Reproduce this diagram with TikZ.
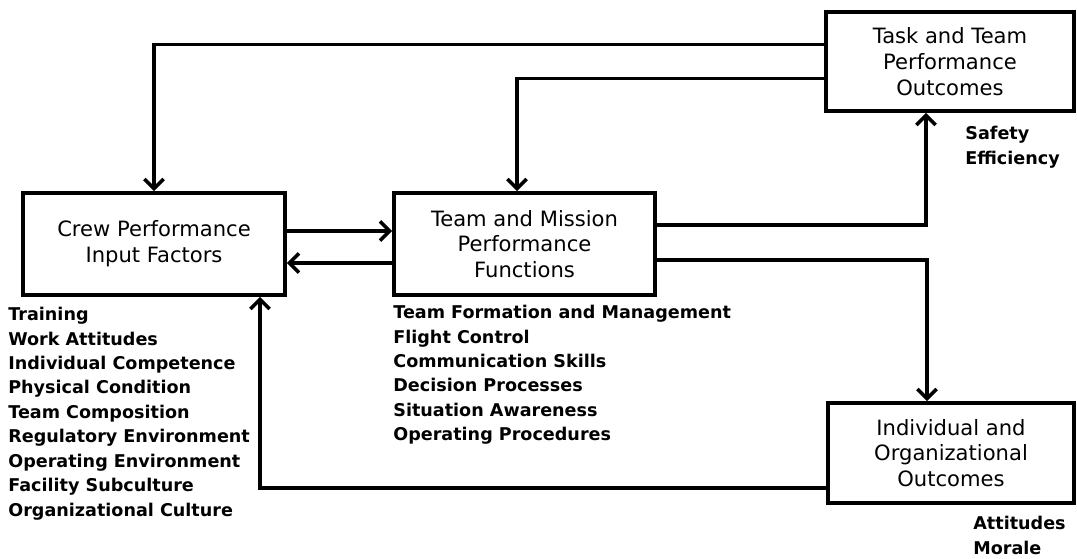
\documentclass[tikz,border=0pt]{standalone}
\usepackage{fontspec}
\setmainfont{DejaVu Sans}
\usetikzlibrary{arrows.meta}

\begin{document}
\begin{tikzpicture}
        \tikzstyle{block} = [draw, line width=2.1pt, inner sep=0pt, align=center, font=\fontsize{12}{14.6}\selectfont]
        \tikzstyle{edge} = [line width=2pt, -{Straight Barb[length=5.5pt, width=11pt]}]
        \tikzstyle{items} = [anchor=north west, inner sep=0pt, align=left, font=\fontsize{10}{13.9}\selectfont\bfseries]
        \useasboundingbox (0,0) rectangle (21.54,-11.18);
        % the four blocks
        \node[block, minimum width=5.24cm, minimum height=2.04cm] (crew) at (3.08,-4.88) {Crew Performance\\Input Factors};
        \node[block, minimum width=5.22cm, minimum height=2.04cm] (mission) at (10.49,-4.88) {Team and Mission\\Performance\\Functions};
        \node[block, minimum width=4.96cm, minimum height=1.98cm] (task) at (19.0,-1.23) {Task and Team\\Performance\\Outcomes};
        \node[block, minimum width=4.92cm, minimum height=2.0cm] (indiv) at (19.02,-9.06) {Individual and\\Organizational\\Outcomes};
        % lists under the blocks
        \node[items] (crewlist) at (0.16,-6.14) {Training\\Work Attitudes\\Individual Competence\\Physical Condition\\Team Composition\\Regulatory Environment\\Operating Environment\\Facility Subculture\\Organizational Culture};
        \node[items] (missionlist) at (7.86,-6.1) {Team Formation and Management\\Flight Control\\Communication Skills\\Decision Processes\\Situation Awareness\\Operating Procedures};
        \node[items] (tasklist) at (19.3,-2.52) {Safety\\Efficiency};
        \node[items] (indivlist) at (19.46,-10.32) {Attitudes\\Morale};
        % feedback and flow
        \draw[edge] ([yshift=0.34cm]task.west) -| (crew.north);
        \draw[edge] ([yshift=-0.34cm]task.west) -| ([xshift=-0.15cm]mission.north);
        \draw[edge] ([yshift=0.26cm]crew.east) -- ([yshift=0.26cm]mission.west);
        \draw[edge] ([yshift=-0.38cm]mission.west) -- ([yshift=-0.38cm]crew.east);
        \draw[edge] ([yshift=0.38cm]mission.east) -| ([xshift=-0.48cm]task.south);
        \draw[edge] ([yshift=-0.32cm]mission.east) -| ([xshift=-0.48cm]indiv.north);
        \draw[edge] ([yshift=-0.7cm]indiv.west) -| ([xshift=2.12cm]crew.south);
    \end{tikzpicture}
\end{document}
